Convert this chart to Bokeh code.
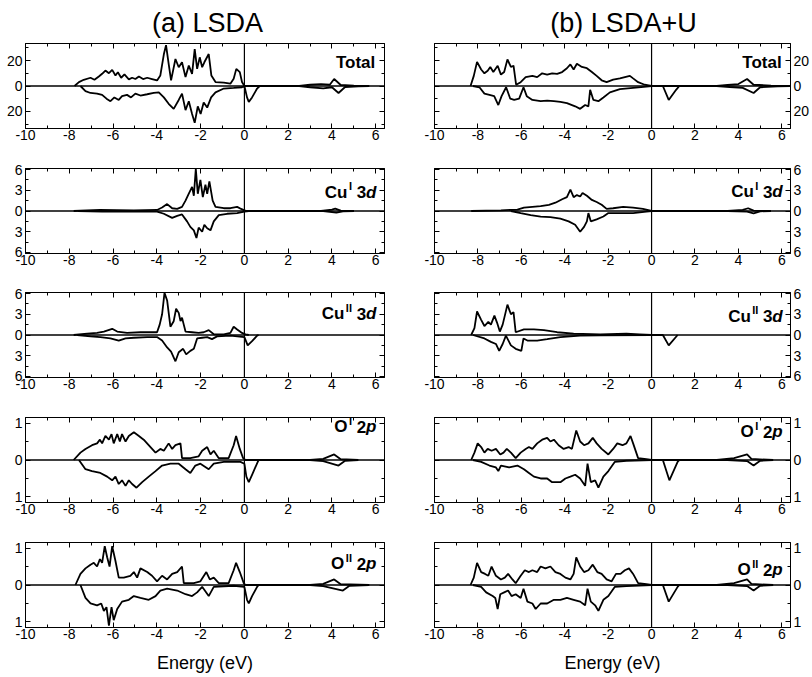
from bokeh.plotting import figure
from bokeh.models import Range1d, FixedTicker, LinearAxis, Span, Label, CustomJSTickFormatter
from bokeh.layouts import gridplot
from bokeh.embed import file_html
from bokeh.resources import INLINE

FONT = "Liberation Sans"

# ---------------- data: (energy eV, DOS) ----------------
# spin-down values are stored as magnitudes and drawn downward
a_tot_up = [(-7.76,0),(-7.56,3.1),(-7.34,4.9),(-7.03,6.5),(-6.85,4.9),(-6.65,7.5),(-6.5,9.6),(-6.35,12.2),(-6.19,10.1),(-6.04,12.7),(-5.89,8.3),(-5.78,10.9),(-5.63,6.5),(-5.48,9.1),(-5.28,5.2),(-5.13,6.5),(-4.98,5.5),(-4.82,7.5),(-4.63,5.5),(-4.44,6.5),(-4.22,5.5),(-3.99,4.4),(-3.84,8.3),(-3.68,25),(-3.58,32.2),(-3.46,17.4),(-3.35,4.4),(-3.15,21.3),(-3.0,14.8),(-2.85,18.7),(-2.69,7),(-2.54,16.1),(-2.39,9.6),(-2.27,29),(-2.16,13.5),(-2.04,22.6),(-1.93,14.8),(-1.83,18.7),(-1.63,25.2),(-1.51,8.3),(-1.32,3.1),(-0.94,2.6),(-0.64,1.8),(-0.49,5.7),(-0.37,13.5),(-0.21,10.9),(-0.11,3.1),(0.0,0),(2.5,0),(3.0,1),(3.5,1.5),(3.9,1),(4.1,5.5),(4.4,0.8),(5.0,0.3),(5.7,0)]
a_tot_dn = [(-7.49,0),(-7.26,4),(-7.03,5.5),(-6.73,6),(-6.5,7),(-6.3,10),(-6.12,12),(-5.94,9),(-5.74,11),(-5.59,8),(-5.36,7),(-5.18,9),(-4.98,6),(-4.75,7.5),(-4.44,6.5),(-4.14,5.5),(-3.91,5),(-3.68,9),(-3.46,14),(-3.23,18),(-3.0,11),(-2.85,6),(-2.69,19),(-2.54,12),(-2.39,22),(-2.27,29),(-2.13,16),(-2.0,22),(-1.86,13),(-1.7,17),(-1.52,9),(-1.32,5),(-0.94,2),(-0.49,1.5),(-0.11,1),(0.0,0),(0.12,9),(0.2,12.5),(0.35,9),(0.58,2),(0.7,0),(2.5,0),(3.0,1),(3.6,1.8),(4.0,1),(4.3,5.5),(4.6,0.8),(5.2,0.2),(5.7,0)]
b_tot_up = [(-8.34,0),(-8.19,8),(-8.04,19),(-7.85,13),(-7.7,10),(-7.55,12),(-7.43,15),(-7.29,11),(-7.09,16),(-6.94,9),(-6.79,11),(-6.64,21),(-6.48,15),(-6.36,16),(-6.24,1),(-6.03,3),(-5.8,7),(-5.49,8),(-5.27,7),(-5.04,10),(-4.81,9),(-4.58,10),(-4.35,9.5),(-4.12,11),(-3.9,14),(-3.74,17),(-3.59,13),(-3.44,17.5),(-3.21,15),(-2.98,14),(-2.75,11),(-2.53,8),(-2.3,4.5),(-2.07,3),(-1.77,5),(-1.46,6),(-1.0,8),(-0.85,6),(-0.62,3),(-0.32,1),(0.0,0),(3.0,0),(3.5,0.8),(4.0,1.5),(4.4,5.5),(4.7,1),(5.5,0.3),(6.4,0)]
b_tot_dn = [(-8.23,0),(-7.93,1),(-7.7,6),(-7.47,7),(-7.25,8),(-7.06,15),(-6.91,8),(-6.7,1),(-6.51,10),(-6.33,11),(-6.1,10),(-5.9,1),(-5.75,8),(-5.49,11),(-5.11,12),(-4.81,11.5),(-4.5,12),(-4.2,12.5),(-3.9,13.5),(-3.52,16),(-3.29,18),(-3.06,15),(-2.91,16),(-2.83,3),(-2.68,11),(-2.45,12),(-2.22,9),(-1.92,5),(-1.46,2.5),(-0.85,1.5),(-0.24,0.5),(0.0,0),(0.52,0),(0.79,11),(1.13,3),(1.28,0),(3.0,0),(3.6,0.8),(4.2,1.5),(4.7,5.5),(5.0,1),(5.8,0.3),(6.4,0)]

a_cu1_up = [(-7.8,0),(-6.6,0.15),(-5.05,0.1),(-3.99,0.15),(-3.76,0.5),(-3.53,1.0),(-3.3,0.4),(-3.07,0.3),(-2.85,0.6),(-2.69,1.5),(-2.54,2.5),(-2.39,3.5),(-2.31,2.2),(-2.22,6.1),(-2.13,2.5),(-2.01,4.5),(-1.9,2.0),(-1.78,3.8),(-1.7,2.5),(-1.6,4.3),(-1.45,1.5),(-1.32,0.6),(-0.94,0.4),(-0.64,0.4),(-0.33,0.6),(-0.15,0.3),(0.0,0.1),(0.12,0),(3.5,0),(4.0,0.2),(4.15,0.35),(4.4,0.05),(5.0,0)]
a_cu1_dn = [(-7.6,0),(-6.5,0.1),(-5.0,0.1),(-3.99,0.1),(-3.68,0.4),(-3.3,1.0),(-3.07,0.7),(-2.85,0.5),(-2.62,1.5),(-2.47,2.3),(-2.31,2.8),(-2.19,3.9),(-2.09,2.4),(-1.93,3.0),(-1.83,2.0),(-1.7,2.5),(-1.55,2.8),(-1.4,1.5),(-1.17,0.6),(-0.79,0.4),(-0.33,0.3),(0.0,0.1),(0.2,0),(3.6,0),(4.2,0.25),(4.5,0.05),(5.0,0)]
b_cu1_up = [(-8.31,0),(-6.94,0.1),(-6.18,0.2),(-5.88,0.5),(-5.49,0.6),(-5.11,0.7),(-4.73,0.9),(-4.43,1.2),(-4.12,1.7),(-3.9,2.0),(-3.74,3.1),(-3.59,2.0),(-3.44,2.3),(-3.29,2.1),(-3.18,2.6),(-2.98,2.2),(-2.75,1.6),(-2.53,1.3),(-2.3,0.9),(-2.07,0.3),(-1.77,0.4),(-1.31,0.6),(-0.85,0.5),(-0.4,0.3),(0.0,0),(3.5,0),(4.2,0.15),(4.45,0.4),(4.7,0.05),(5.5,0)]
b_cu1_dn = [(-6.48,0),(-6.03,0.3),(-5.57,0.6),(-5.11,0.8),(-4.66,0.9),(-4.2,1.1),(-3.82,1.5),(-3.52,2.0),(-3.29,3.0),(-3.11,2.3),(-2.98,1.5),(-2.91,0.3),(-2.8,1.5),(-2.53,1.2),(-2.22,0.8),(-1.99,0.3),(-1.46,0.3),(-0.85,0.3),(-0.24,0.1),(0.0,0),(3.5,0),(4.4,0.1),(4.7,0.35),(5.0,0.05),(5.5,0)]

a_cu2_up = [(-7.8,0),(-7.18,0.2),(-6.73,0.3),(-6.42,0.5),(-6.04,0.9),(-5.81,0.5),(-5.36,0.3),(-4.75,0.4),(-3.99,0.4),(-3.87,1.5),(-3.76,3.0),(-3.65,6.1),(-3.53,5.0),(-3.38,1.2),(-3.23,2.0),(-3.12,3.8),(-3.0,3.2),(-2.92,2.0),(-2.85,2.5),(-2.77,1.5),(-2.69,0.5),(-2.39,0.4),(-2.09,0.3),(-1.86,0.4),(-1.63,0.7),(-1.4,0.1),(-0.94,0.1),(-0.64,0.3),(-0.49,1.2),(-0.33,0.8),(-0.11,0.3),(0.05,0.1),(0.2,0)]
a_cu2_dn = [(-7.64,0),(-7.03,0.2),(-6.58,0.3),(-6.12,0.5),(-5.74,0.8),(-5.43,0.5),(-5.05,0.4),(-4.44,0.3),(-3.99,0.3),(-3.76,0.8),(-3.53,1.8),(-3.35,2.4),(-3.15,3.8),(-3.0,2.5),(-2.8,2.0),(-2.66,2.8),(-2.47,2.3),(-2.31,2.0),(-2.16,0.5),(-1.93,0.4),(-1.7,0.3),(-1.48,0.6),(-1.25,0.2),(-0.64,0.1),(0.0,0.3),(0.15,1.5),(0.35,0.9),(0.58,0.1),(0.65,0)]
b_cu2_up = [(-8.31,0),(-8.16,1.0),(-8.04,3.4),(-7.85,2.2),(-7.7,1.3),(-7.52,1.9),(-7.4,1.5),(-7.24,2.8),(-7.12,1.8),(-6.99,0.5),(-6.86,1.5),(-6.76,2.8),(-6.64,4.4),(-6.48,3.0),(-6.36,3.3),(-6.26,0.4),(-5.88,0.8),(-5.42,0.8),(-4.96,0.7),(-4.35,0.4),(-3.59,0.2),(-2.37,0.1),(-1.16,0.2),(-0.55,0.1),(0.0,0)]
b_cu2_dn = [(-8.23,0),(-7.7,0.5),(-7.4,1.0),(-7.17,1.3),(-7.02,2.3),(-6.86,1.3),(-6.71,0.1),(-6.48,1.5),(-6.26,2.0),(-6.0,2.3),(-5.9,0.5),(-5.72,0.8),(-5.27,0.8),(-4.81,0.6),(-4.2,0.3),(-3.29,0.1),(-2.37,0.05),(0.0,0),(0.52,0),(0.79,1.5),(1.2,0)]

a_o1_up = [(-7.8,0),(-7.49,0.2),(-7.26,0.3),(-6.96,0.4),(-6.73,0.45),(-6.6,0.55),(-6.5,0.45),(-6.35,0.65),(-6.19,0.55),(-6.07,0.7),(-5.97,0.45),(-5.81,0.7),(-5.69,0.5),(-5.59,0.7),(-5.43,0.5),(-5.28,0.65),(-5.05,0.75),(-4.82,0.65),(-4.6,0.55),(-4.29,0.35),(-4.06,0.2),(-3.84,0.3),(-3.68,0.25),(-3.46,0.45),(-3.3,0.3),(-3.15,0.4),(-2.92,0.45),(-2.85,0.05),(-2.47,0.05),(-2.09,0.1),(-1.93,0.25),(-1.7,0.35),(-1.55,0.15),(-1.4,0.25),(-1.17,0.05),(-0.72,0.05),(-0.49,0.4),(-0.38,0.65),(-0.21,0.3),(-0.06,0.05),(0.05,0),(3.0,0),(3.6,0.03),(4.1,0.15),(4.4,0.02),(5.2,0)]
a_o1_dn = [(-7.56,0),(-7.26,0.25),(-6.96,0.3),(-6.58,0.35),(-6.27,0.45),(-6.04,0.55),(-5.89,0.45),(-5.74,0.65),(-5.59,0.55),(-5.43,0.7),(-5.28,0.55),(-5.13,0.65),(-4.93,0.75),(-4.67,0.6),(-4.37,0.45),(-4.06,0.3),(-3.76,0.15),(-3.38,0.1),(-3.0,0.1),(-2.69,0.25),(-2.47,0.35),(-2.24,0.15),(-2.01,0.1),(-1.63,0.25),(-1.4,0.1),(-0.94,0.05),(-0.18,0.05),(0.0,0.1),(0.09,0.45),(0.2,0.6),(0.35,0.4),(0.61,0.05),(0.65,0),(3.0,0),(3.6,0.03),(4.3,0.15),(4.6,0.02),(5.2,0)]
b_o1_up = [(-8.31,0),(-8.16,0.2),(-8.01,0.45),(-7.85,0.35),(-7.7,0.2),(-7.55,0.3),(-7.37,0.25),(-7.17,0.3),(-6.97,0.15),(-6.82,0.2),(-6.67,0.3),(-6.48,0.2),(-6.26,0.05),(-6.03,0.2),(-5.8,0.3),(-5.65,0.35),(-5.49,0.3),(-5.27,0.45),(-5.04,0.55),(-4.81,0.6),(-4.66,0.5),(-4.5,0.55),(-4.28,0.4),(-4.05,0.3),(-3.82,0.35),(-3.67,0.3),(-3.47,0.8),(-3.29,0.5),(-3.11,0.4),(-2.91,0.45),(-2.71,0.6),(-2.53,0.45),(-2.3,0.3),(-1.99,0.15),(-1.77,0.3),(-1.58,0.45),(-1.34,0.4),(-1.16,0.45),(-0.97,0.65),(-0.85,0.45),(-0.62,0.05),(-0.24,0.02),(0.0,0),(3.0,0),(3.8,0.05),(4.4,0.15),(4.6,0.03),(5.6,0)]
b_o1_dn = [(-8.23,0),(-7.85,0.05),(-7.47,0.15),(-7.17,0.2),(-7.06,0.3),(-6.94,0.15),(-6.56,0.2),(-6.18,0.15),(-5.88,0.25),(-5.65,0.35),(-5.42,0.45),(-5.11,0.5),(-4.81,0.5),(-4.58,0.6),(-4.2,0.6),(-3.97,0.5),(-3.74,0.45),(-3.52,0.4),(-3.29,0.5),(-3.06,0.7),(-2.95,0.1),(-2.8,0.6),(-2.6,0.55),(-2.45,0.75),(-2.22,0.45),(-1.99,0.3),(-1.69,0.05),(-1.16,0.02),(0.0,0),(0.52,0),(0.82,0.55),(1.2,0.05),(1.28,0),(3.5,0),(4.4,0.03),(4.7,0.15),(5.0,0.02),(5.6,0)]

a_o2_up = [(-7.72,0),(-7.49,0.3),(-7.26,0.45),(-7.03,0.55),(-6.88,0.6),(-6.73,0.5),(-6.6,0.7),(-6.5,0.6),(-6.38,1.05),(-6.27,0.75),(-6.16,0.5),(-6.04,1.05),(-5.89,0.65),(-5.74,0.2),(-5.51,0.2),(-5.21,0.25),(-5.05,0.35),(-4.9,0.2),(-4.75,0.45),(-4.44,0.35),(-4.22,0.25),(-3.99,0.1),(-3.76,0.25),(-3.53,0.15),(-3.3,0.3),(-3.07,0.35),(-2.85,0.5),(-2.77,0.05),(-2.31,0.05),(-2.01,0.1),(-1.74,0.35),(-1.58,0.15),(-1.4,0.2),(-1.17,0.05),(-0.72,0.05),(-0.49,0.4),(-0.38,0.6),(-0.21,0.35),(-0.03,0.05),(0.05,0),(3.0,0),(3.6,0.03),(4.1,0.15),(4.4,0.02),(5.7,0)]
a_o2_dn = [(-7.49,0),(-7.26,0.35),(-7.03,0.5),(-6.73,0.55),(-6.54,0.5),(-6.42,0.7),(-6.3,0.6),(-6.19,1.1),(-6.07,0.6),(-5.97,0.95),(-5.81,0.65),(-5.59,0.45),(-5.28,0.4),(-5.05,0.3),(-4.75,0.35),(-4.37,0.4),(-4.06,0.3),(-3.84,0.15),(-3.53,0.1),(-3.07,0.15),(-2.69,0.25),(-2.39,0.3),(-2.16,0.2),(-1.93,0.05),(-1.63,0.3),(-1.4,0.05),(-0.49,0.02),(0.0,0.05),(0.12,0.4),(0.2,0.5),(0.35,0.3),(0.58,0.05),(0.65,0),(3.0,0),(3.6,0.03),(4.5,0.15),(4.8,0.02),(5.7,0)]
b_o2_up = [(-8.34,0),(-8.19,0.2),(-8.04,0.6),(-7.85,0.35),(-7.67,0.3),(-7.52,0.25),(-7.37,0.5),(-7.17,0.25),(-6.94,0.15),(-6.76,0.2),(-6.61,0.3),(-6.41,0.15),(-6.26,0.05),(-6.03,0.25),(-5.84,0.4),(-5.65,0.35),(-5.49,0.4),(-5.27,0.35),(-5.11,0.5),(-4.89,0.45),(-4.66,0.5),(-4.43,0.35),(-4.2,0.3),(-3.97,0.2),(-3.74,0.15),(-3.59,0.3),(-3.47,0.75),(-3.29,0.5),(-3.11,0.35),(-2.91,0.4),(-2.71,0.55),(-2.5,0.35),(-2.3,0.3),(-2.07,0.15),(-1.84,0.1),(-1.64,0.3),(-1.43,0.3),(-1.23,0.4),(-1.04,0.45),(-0.85,0.3),(-0.62,0.05),(-0.24,0.02),(0.0,0),(3.0,0),(3.8,0.05),(4.4,0.15),(4.6,0.03),(5.6,0)]
b_o2_dn = [(-8.23,0),(-7.85,0.05),(-7.62,0.2),(-7.32,0.3),(-7.2,0.35),(-7.09,0.65),(-6.97,0.25),(-6.79,0.2),(-6.61,0.15),(-6.45,0.3),(-6.26,0.25),(-6.03,0.35),(-5.9,0.1),(-5.72,0.45),(-5.49,0.5),(-5.34,0.65),(-5.11,0.5),(-4.81,0.5),(-4.5,0.4),(-4.2,0.4),(-3.9,0.35),(-3.59,0.4),(-3.29,0.45),(-3.06,0.55),(-2.95,0.1),(-2.8,0.45),(-2.6,0.55),(-2.45,0.7),(-2.22,0.4),(-1.99,0.3),(-1.69,0.05),(-1.16,0.03),(0.0,0),(0.52,0),(0.79,0.45),(1.2,0.05),(1.28,0),(3.5,0),(4.4,0.03),(4.7,0.15),(5.0,0.02),(5.6,0)]

# ---------------- axes / labels content ----------------
column_titles = ["(a) LSDA", "(b) LSDA+U"]
x_label = "Energy (eV)"
x_ticks = [-10, -8, -6, -4, -2, 0, 2, 4, 6]
x_minor = [-9, -7, -5, -3, -1, 1, 3, 5]
x_tick_text = ["-10", "-8", "-6", "-4", "-2", "0", "2", "4", "6"]

y_limits = [33.5, 6.15, 6.15, 1.15, 1.15]
y_ticks = [[-20, 0, 20], [-6, -3, 0, 3, 6], [-6, -3, 0, 3, 6], [-1, 0, 1], [-1, 0, 1]]
y_minor = [[-30, -10, 10, 30], [-4.5, -1.5, 1.5, 4.5], [-4.5, -1.5, 1.5, 4.5], [-0.5, 0.5], [-0.5, 0.5]]
y_tick_text = [["20", "0", "20"], ["6", "3", "0", "3", "6"], ["6", "3", "0", "3", "6"], ["1", "0", "1"], ["1", "0", "1"]]

panel_names = [("Total", "", "", ""), ("Cu", "I", "3", "d"), ("Cu", "II", "3", "d"),
               ("O", "I", "2", "p"), ("O", "II", "2", "p")]

curves = [
    [(a_tot_up, a_tot_dn), (b_tot_up, b_tot_dn)],
    [(a_cu1_up, a_cu1_dn), (b_cu1_up, b_cu1_dn)],
    [(a_cu2_up, a_cu2_dn), (b_cu2_up, b_cu2_dn)],
    [(a_o1_up, a_o1_dn), (b_o1_up, b_o1_dn)],
    [(a_o2_up, a_o2_dn), (b_o2_up, b_o2_dn)],
]

# ---------------- layout / style ----------------
X_MIN, X_MAX = -10.0, 6.4
FRAME_W, FRAME_H = 359, 85
TOP_B = [43, 20, 19, 20, 20]
BOT_B = [20, 20, 20, 20, 48]
COL_B = [(25, 25), (25, 19)]
TITLE_SIZE = 27
TITLE_CENTER_SHIFT = [2.5, 9.5]   # px right of frame centre
name_y_px = [[19, 23.5, 21, 9, 21], [19, 23, 23.5, 14, 27]]  # px below frame top

REG_W = {'(': .333, ')': .333, 'a': .556, 'b': .556, ' ': .278, 'L': .556, 'S': .667,
         'D': .722, 'A': .667, '+': .584, 'U': .722}
BOLD_W = {'T': .611, 'o': .611, 't': .333, 'a': .556, 'l': .278, 'C': .722, 'u': .611,
          'I': .278, 'O': .778, ' ': .278, '3': .556, '2': .556, 'd': .611, 'p': .611}


def tw(s, size, table=BOLD_W):
    return sum(table.get(c, 0.6) for c in s) * size


def style_axis(ax, ticks, minor, texts, standoff, size="14px"):
    ax.ticker = FixedTicker(ticks=ticks, minor_ticks=minor)
    ax.major_tick_in = 5
    ax.major_tick_out = 0
    ax.minor_tick_in = 3
    ax.minor_tick_out = 0
    ax.axis_line_color = "black"
    ax.major_tick_line_color = "black"
    ax.minor_tick_line_color = "black"
    if texts is None:
        ax.formatter = CustomJSTickFormatter(code="return '';")
        ax.major_label_text_font_size = "1px"
        ax.major_label_standoff = 0
    else:
        ax.major_label_overrides = {t: s for t, s in zip(ticks, texts)}
        ax.major_label_text_font = FONT
        ax.major_label_text_font_size = size
        ax.major_label_text_color = "black"
        ax.major_label_standoff = standoff


def add_name(p, parts, lim, y_px):
    main, sup, num, orb = parts
    dx = (X_MAX - X_MIN) / FRAME_W
    dy = 2 * lim / FRAME_H
    yc = lim - y_px * dy
    S, s2 = 17, 11
    segs = [(main, S, "bold", 0, 0)]
    if sup:
        segs.append((sup, s2, "bold", 6, 1.5))
    if num:
        segs.append((num, S, "bold", 0, tw(" ", S)))
        segs.append((orb, S, "bold italic", 0, 0))
    total = sum(tw(t, s) + g for t, s, _, _, g in segs)
    x = X_MAX - 8 * dx - total * dx
    for t, s, st, rise, gap in segs:
        x += gap * dx
        p.add_layout(Label(x=x, y=yc + rise * dy, text=t, text_font=FONT,
                           text_font_size=f"{s}px", text_font_style=st,
                           text_align="left", text_baseline="middle", text_color="black"))
        x += tw(t, s) * dx


grid = []
for r in range(5):
    row = []
    for c in range(2):
        top, bottom = TOP_B[r], BOT_B[r]
        left, right = COL_B[c]
        lim = y_limits[r]
        p = figure(width=left + FRAME_W + right, height=top + FRAME_H + bottom,
                   x_range=Range1d(X_MIN, X_MAX), y_range=Range1d(-lim, lim),
                   output_backend="svg", toolbar_location=None,
                   x_axis_location=None, y_axis_location=None,
                   title=column_titles[c] if r == 0 else None,
                   min_border_left=left, min_border_right=right,
                   min_border_top=top, min_border_bottom=bottom,
                   background_fill_color="white", border_fill_color="white",
                   outline_line_color="black", outline_line_width=1)
        p.grid.visible = False
        if r == 0:
            tlen = tw(column_titles[c], TITLE_SIZE, REG_W)
            p.title.align = "left"
            p.title.offset = (FRAME_W - tlen) / 2 + TITLE_CENTER_SHIFT[c]
            p.title.text_font = FONT
            p.title.text_font_size = f"{TITLE_SIZE}px"
            p.title.text_font_style = "normal"
            p.title.text_color = "black"
            p.title.standoff = 11

        xb = LinearAxis()
        style_axis(xb, x_ticks, x_minor, x_tick_text, 1)
        if r == 4:
            xb.axis_label = x_label
            xb.axis_label_text_font = FONT
            xb.axis_label_text_font_size = "18px"
            xb.axis_label_text_font_style = "normal"
            xb.axis_label_text_color = "black"
            xb.axis_label_standoff = 11
        p.add_layout(xb, "below")
        xt = LinearAxis()
        style_axis(xt, x_ticks, x_minor, None, 0)
        p.add_layout(xt, "above")

        ya = LinearAxis()
        style_axis(ya, y_ticks[r], y_minor[r], y_tick_text[r], 3)
        yb = LinearAxis()
        style_axis(yb, y_ticks[r], y_minor[r], None, 0)
        if c == 0:
            p.add_layout(ya, "left")
            p.add_layout(yb, "right")
        else:
            p.add_layout(ya, "right")
            p.add_layout(yb, "left")

        p.add_layout(Span(location=0, dimension="width", line_color="black", line_width=1.4))
        p.add_layout(Span(location=0, dimension="height", line_color="black", line_width=1.2))

        up, dn = curves[r][c]
        p.line([e for e, v in up], [v for e, v in up], line_color="black", line_width=1.8)
        p.line([e for e, v in dn], [-v for e, v in dn], line_color="black", line_width=1.8)

        add_name(p, panel_names[r], lim, name_y_px[c][r])
        row.append(p)
    grid.append(row)

layout = gridplot(grid, toolbar_location=None)
open("out.html", "w").write(file_html(layout, INLINE))
